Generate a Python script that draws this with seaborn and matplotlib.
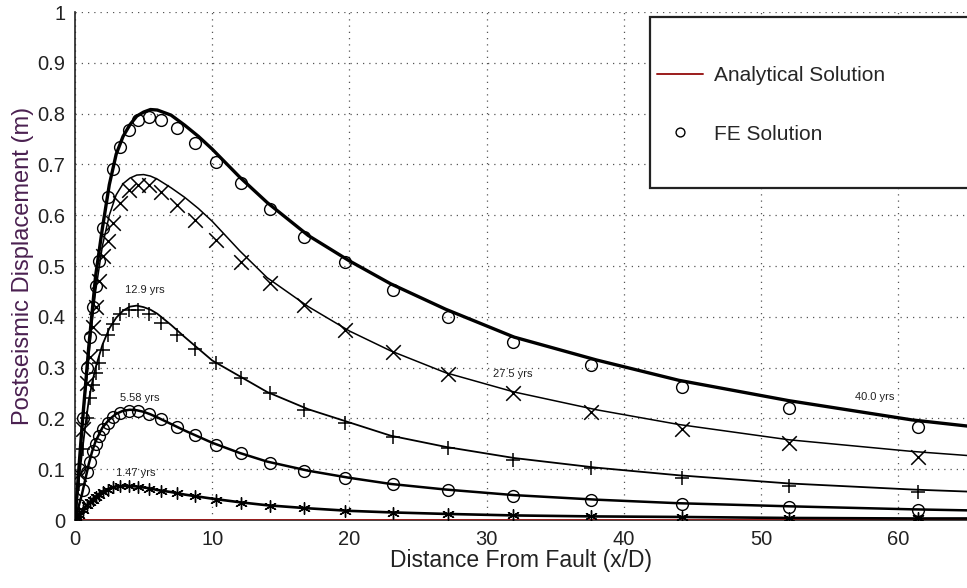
import matplotlib
matplotlib.use("Agg")
import matplotlib.pyplot as plt
from matplotlib.patches import Rectangle
import seaborn as sns
import pandas as pd
import numpy as np

# ---------------- data ----------------
times = ["40.0 yrs", "27.5 yrs", "12.9 yrs", "5.58 yrs", "1.47 yrs"]

ana_x = [0, 0.25, 0.5, 0.75, 1.0, 1.25, 1.5, 2.0, 2.5, 3.0, 3.5, 4.0, 4.5, 5.0, 5.5, 6.0,
         7.0, 8.0, 9.0, 10.0, 12.0, 14.0, 17.0, 20.0, 23.0, 27.0, 32.0, 38.0, 44.0, 52.0, 61.0, 65.0]
ana_400 = [0, 0.09, 0.18, 0.26, 0.34, 0.41, 0.48, 0.575, 0.66, 0.72, 0.755, 0.778, 0.795, 0.803, 0.808, 0.807,
           0.797, 0.777, 0.755, 0.73, 0.675, 0.625, 0.56, 0.51, 0.465, 0.415, 0.36, 0.315, 0.275, 0.235, 0.197, 0.185]
ana_275 = [0, 0.085, 0.17, 0.25, 0.32, 0.39, 0.45, 0.54, 0.60, 0.64, 0.662, 0.673, 0.679, 0.68, 0.677, 0.671,
           0.654, 0.635, 0.613, 0.588, 0.53, 0.477, 0.42, 0.372, 0.333, 0.29, 0.252, 0.217, 0.188, 0.158, 0.135, 0.127]
ana_129 = [0, 0.07, 0.13, 0.185, 0.235, 0.27, 0.30, 0.345, 0.377, 0.398, 0.412, 0.42, 0.422, 0.419, 0.414, 0.406,
           0.384, 0.36, 0.337, 0.314, 0.283, 0.252, 0.218, 0.192, 0.166, 0.144, 0.122, 0.103, 0.088, 0.072, 0.06, 0.056]
ana_558 = [0, 0.025, 0.05, 0.08, 0.11, 0.135, 0.155, 0.182, 0.198, 0.209, 0.215, 0.217, 0.216, 0.213, 0.208, 0.202,
           0.189, 0.176, 0.164, 0.152, 0.132, 0.115, 0.097, 0.083, 0.071, 0.06, 0.049, 0.04, 0.033, 0.027, 0.021, 0.019]
ana_147 = [0, 0.008, 0.016, 0.025, 0.033, 0.04, 0.046, 0.056, 0.062, 0.066, 0.067, 0.067, 0.066, 0.064, 0.062, 0.059,
           0.055, 0.05, 0.046, 0.042, 0.035, 0.029, 0.023, 0.018, 0.015, 0.012, 0.009, 0.007, 0.006, 0.004, 0.003, 0.003]
ana_000 = [0.0] * len(ana_x)

fe_x = [0.0, 0.3, 0.6, 0.9, 1.1, 1.3, 1.5, 1.75, 2.05, 2.4, 2.8, 3.3, 3.9, 4.6, 5.4, 6.3, 7.4, 8.75,
        10.3, 12.1, 14.2, 16.7, 19.7, 23.2, 27.2, 31.9, 37.6, 44.2, 52.0, 61.4]
fe_400 = [0, 0.1, 0.2, 0.3, 0.36, 0.42, 0.46, 0.51, 0.575, 0.635, 0.69, 0.735, 0.768, 0.787, 0.793, 0.787, 0.771, 0.742,
          0.705, 0.663, 0.612, 0.558, 0.508, 0.453, 0.40, 0.35, 0.305, 0.262, 0.22, 0.183]
fe_275 = [0, 0.09, 0.18, 0.27, 0.32, 0.38, 0.42, 0.47, 0.52, 0.55, 0.585, 0.625, 0.65, 0.66, 0.66, 0.645, 0.62, 0.59,
          0.551, 0.508, 0.466, 0.423, 0.374, 0.331, 0.287, 0.25, 0.212, 0.179, 0.151, 0.124]
fe_129 = [0, 0.07, 0.14, 0.2, 0.24, 0.265, 0.29, 0.31, 0.335, 0.365, 0.385, 0.405, 0.413, 0.413, 0.405, 0.388, 0.365, 0.336,
          0.31, 0.28, 0.25, 0.217, 0.19, 0.164, 0.141, 0.118, 0.102, 0.083, 0.066, 0.056]
fe_558 = [0, 0.03, 0.06, 0.095, 0.115, 0.135, 0.15, 0.165, 0.18, 0.19, 0.203, 0.211, 0.215, 0.215, 0.209, 0.198, 0.183, 0.167,
          0.148, 0.131, 0.113, 0.097, 0.083, 0.07, 0.06, 0.048, 0.04, 0.032, 0.026, 0.02]
fe_147 = [0, 0.01, 0.02, 0.03, 0.035, 0.04, 0.045, 0.05, 0.055, 0.06, 0.064, 0.066, 0.066, 0.065, 0.062, 0.058, 0.053, 0.047,
          0.04, 0.034, 0.028, 0.023, 0.018, 0.014, 0.011, 0.009, 0.007, 0.005, 0.004, 0.003]

label_x = [58.3, 31.9, 5.1, 4.7, 4.4]
label_y = [0.242, 0.287, 0.453, 0.24, 0.093]

x_ticks = [0, 10, 20, 30, 40, 50, 60]
y_ticks = [0, 0.1, 0.2, 0.3, 0.4, 0.5, 0.6, 0.7, 0.8, 0.9, 1.0]
y_tick_labels = ["0", "0.1", "0.2", "0.3", "0.4", "0.5", "0.6", "0.7", "0.8", "0.9", "1"]

# ---------------- tables ----------------
ana_df = pd.DataFrame({"x": ana_x, "t0": ana_000, "40.0 yrs": ana_400, "27.5 yrs": ana_275,
                       "12.9 yrs": ana_129, "5.58 yrs": ana_558, "1.47 yrs": ana_147})
fe_df = pd.DataFrame({"x": fe_x, "40.0 yrs": fe_400, "27.5 yrs": fe_275, "12.9 yrs": fe_129,
                      "5.58 yrs": fe_558, "1.47 yrs": fe_147})

# ---------------- style ----------------
sns.set_style("white")
plt.rcParams["font.family"] = ["Liberation Sans", "DejaVu Sans"]

fig = plt.figure(figsize=(9.67, 5.88), dpi=100)
ax = fig.add_axes([75 / 967, 68 / 588, (967 - 75) / 967, 508 / 588])

# zero-time analytical line (red, first -> legend handle)
sns.lineplot(data=ana_df, x="x", y="t0", ax=ax, color="#9b1c1c", lw=1.4,
             label="Analytical Solution", zorder=3)

line_w = {"40.0 yrs": 2.4, "27.5 yrs": 1.1, "12.9 yrs": 1.3, "5.58 yrs": 1.8, "1.47 yrs": 1.9}
for t in times:
    sns.lineplot(data=ana_df, x="x", y=t, ax=ax, color="black", lw=line_w[t], legend=False, zorder=4)

markers = {"40.0 yrs": "o", "27.5 yrs": "x", "12.9 yrs": "+", "5.58 yrs": "o", "1.47 yrs": "*"}
for i, t in enumerate(times):
    m = markers[t]
    if m == "o":
        ax.plot(fe_df["x"], fe_df[t], ls="none", marker="o", ms=8.5, mfc="none", mec="black",
                mew=1.0, zorder=5, label="FE Solution" if i == 0 else None)
    elif m == "*":
        sns.scatterplot(data=fe_df, x="x", y=t, ax=ax, marker=(6, 2, 0), s=70, color="black",
                        linewidth=1.0, legend=False, zorder=5)
    else:
        sns.scatterplot(data=fe_df, x="x", y=t, ax=ax, marker=m, s=110, color="black",
                        linewidth=1.1, legend=False, zorder=5)

for t, lx, ly in zip(times, label_x, label_y):
    ax.text(lx, ly, t, fontsize=8, ha="center", va="center", color="#222222")

ax.set_xlim(0, 65)
ax.set_ylim(0, 1)
ax.set_xticks(x_ticks)
ax.set_yticks(y_ticks)
ax.set_yticklabels(y_tick_labels)
ax.tick_params(direction="in", length=4, labelsize=14.5, colors="#222222", pad=7)
ax.grid(True, ls=(0, (1, 4)), color="#555555", lw=0.9)
for s in ["top", "right"]:
    ax.spines[s].set_visible(False)
for s in ["left", "bottom"]:
    ax.spines[s].set_color("#222222")
    ax.spines[s].set_linewidth(1.2)

ax.set_xlabel("Distance From Fault (x/D)", fontsize=16.5, color="#222222", labelpad=0)
ax.set_ylabel("Postseismic Displacement (m)", fontsize=17, color="#4a2050", labelpad=2)

# legend box
box = Rectangle((650 / 967, 1 - 188 / 588), 330 / 967, 171 / 588,
                transform=fig.transFigure, fill=True, facecolor="white",
                edgecolor="#222222", lw=1.6, zorder=6, clip_on=False)
ax.add_patch(box)
leg = ax.legend(loc="upper left", bbox_to_anchor=(657 / 967, 1 - 66 / 588),
                bbox_transform=fig.transFigure, frameon=False, fontsize=15,
                borderpad=0, borderaxespad=0,
                handlelength=2.2, handletextpad=0.55, labelspacing=1.9, markerscale=0.75)
leg.set_zorder(7)

fig.savefig("out.png", dpi=100)
